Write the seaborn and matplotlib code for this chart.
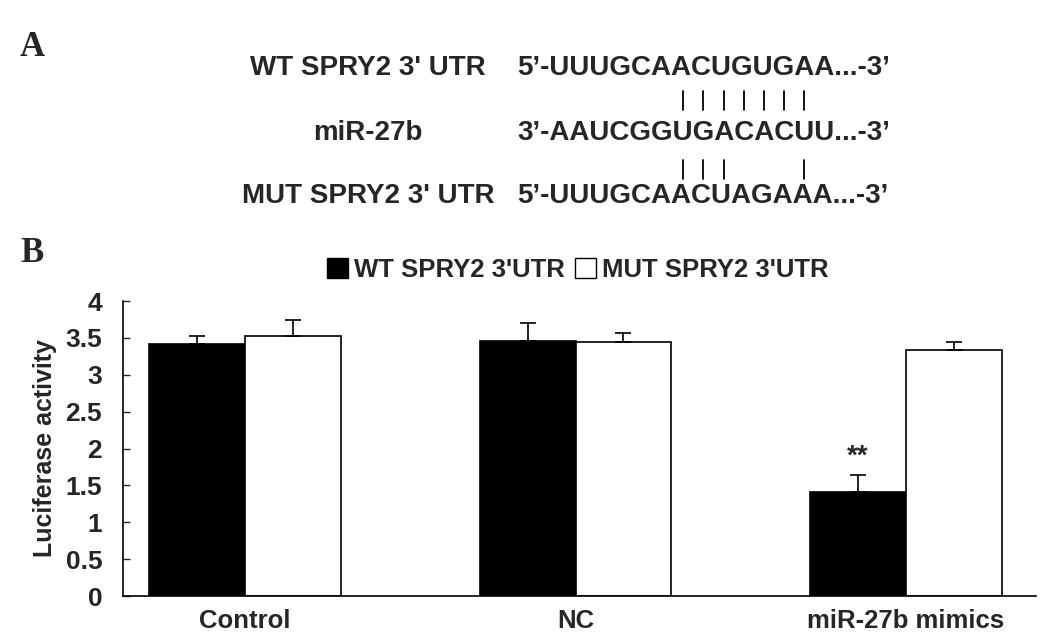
import pandas as pd
import matplotlib.pyplot as plt
import seaborn as sns
from matplotlib.lines import Line2D
from matplotlib.patches import Patch

# Data
groups = ["Control", "NC", "miR-27b mimics"]
constructs = ["WT SPRY2 3'UTR", "MUT SPRY2 3'UTR"]
wt_mean = [3.42, 3.46, 1.41]
wt_err = [0.11, 0.24, 0.23]
mut_mean = [3.52, 3.45, 3.34]
mut_err = [0.22, 0.12, 0.11]

seq_labels = ["WT SPRY2 3' UTR", "miR-27b", "MUT SPRY2 3' UTR"]
seq_texts = ["5\u2019-UUUGCAACUGUGAA...-3\u2019",
             "3\u2019-AAUCGGUGACACUU...-3\u2019",
             "5\u2019-UUUGCAACUAGAAA...-3\u2019"]
# miR-27b characters that carry a pairing bar (above / below)
pairs_wt = [9, 10, 11, 12, 13, 14, 15]
pairs_mut = [9, 10, 11, 15]

df = pd.DataFrame({
    "group": groups * 2,
    "construct": [constructs[0]] * 3 + [constructs[1]] * 3,
    "value": wt_mean + mut_mean,
    "err": wt_err + mut_err,
})

sns.set_style("white")
plt.rcParams["font.family"] = ["Liberation Sans", "DejaVu Sans"]

fig = plt.figure(figsize=(10.46, 6.37), dpi=100)
W, H = 1046, 637

def px(x, y):
    return x / W, 1 - y / H

# Panel A: sequence alignment
fig.text(*px(20, 47), "A", family="Liberation Serif", fontweight="bold",
         fontsize=25, va="center", ha="left")
row_y = [68, 133, 196]
seq_objs = []
for lab, seq, y in zip(seq_labels, seq_texts, row_y):
    fig.text(*px(368, y), lab, fontweight="bold", fontsize=20, ha="center", va="center")
    seq_objs.append(fig.text(*px(517, y), seq, fontweight="bold", fontsize=20,
                             ha="left", va="center"))

renderer = fig.canvas.get_renderer()

def char_centers(t, idxs):
    s = t.get_text()
    prop = t.get_fontproperties()
    x0 = t.get_window_extent(renderer).x0
    out = []
    for i in idxs:
        w1 = renderer.get_text_width_height_descent(s[:i], prop, ismath=False)[0] if i else 0
        w2 = renderer.get_text_width_height_descent(s[:i + 1], prop, ismath=False)[0]
        out.append(x0 + (w1 + w2) / 2)
    return out

for idxs, (y0, y1) in [(pairs_wt, (91, 110)), (pairs_mut, (160, 179))]:
    for xc in char_centers(seq_objs[1], idxs):
        xm = xc / fig.bbox.width
        fig.add_artist(Line2D([xm, xm], [1 - y0 / H, 1 - y1 / H], color="black", lw=1.3))

# Panel B: bar chart
fig.text(*px(20, 253), "B", family="Liberation Serif", fontweight="bold",
         fontsize=25, va="center", ha="left")

ax = fig.add_axes([123 / W, 1 - 596 / H, (1036 - 123) / W, (596 - 301) / H])
sns.barplot(data=df, x="group", y="value", hue="construct", order=groups,
            hue_order=constructs, palette=["black", "white"], width=0.58,
            errorbar=None, edgecolor="black", linewidth=1.2, ax=ax, legend=False)

# upward-only error bars from the drawn bars
for i, cons in enumerate(constructs):
    sub = df[df["construct"] == cons].set_index("group").loc[groups]
    bars = ax.containers[i]
    xs = [b.get_x() + b.get_width() / 2 for b in bars]
    ys = [b.get_height() for b in bars]
    ax.errorbar(xs, ys, yerr=[[0] * 3, sub["err"].values], fmt="none",
                ecolor="black", elinewidth=1.2, capsize=6, capthick=1.2)
    if i == 0:
        b = bars[2]
        ax.text(b.get_x() + b.get_width() / 2, b.get_height() + sub["err"].values[2] + 0.07,
                "**", ha="center", va="bottom", fontsize=20, fontweight="bold")

ax.set_ylim(0, 4)
ax.set_xlim(-0.37, 2.394)
ax.set_yticks([0, 0.5, 1, 1.5, 2, 2.5, 3, 3.5, 4])
ax.set_yticklabels(["0", "0.5", "1", "1.5", "2", "2.5", "3", "3.5", "4"])
ax.set_xticks([0, 1, 2])
ax.set_xticklabels(groups)
ax.set_xticks([0.5, 1.5, 2.394], minor=True)
ax.tick_params(axis="x", which="major", length=0, pad=9, labelsize=18.5)
ax.tick_params(axis="x", which="minor", direction="in", length=6, width=1)
ax.tick_params(axis="y", direction="in", length=5, width=1, left=True, labelsize=19, pad=15)
for lab in ax.get_xticklabels() + ax.get_yticklabels():
    lab.set_fontweight("bold")
ax.set_xlabel("")
ax.set_ylabel("Luciferase activity", fontsize=18, fontweight="bold", labelpad=6)
sns.despine(ax=ax)
for s in ["left", "bottom"]:
    ax.spines[s].set_color("black")
    ax.spines[s].set_linewidth(1.2)

# legend above the plot
handles = [Patch(facecolor="black", edgecolor="black"),
           Patch(facecolor="white", edgecolor="black")]
fig.legend(handles, constructs, loc="center", bbox_to_anchor=(578 / W, 1 - 270 / H),
           ncol=2, frameon=False, handlelength=0.8, handleheight=0.8, handletextpad=0.25,
           columnspacing=0.4, prop={"weight": "bold", "size": 18.5})

fig.savefig("out.png", dpi=100)
